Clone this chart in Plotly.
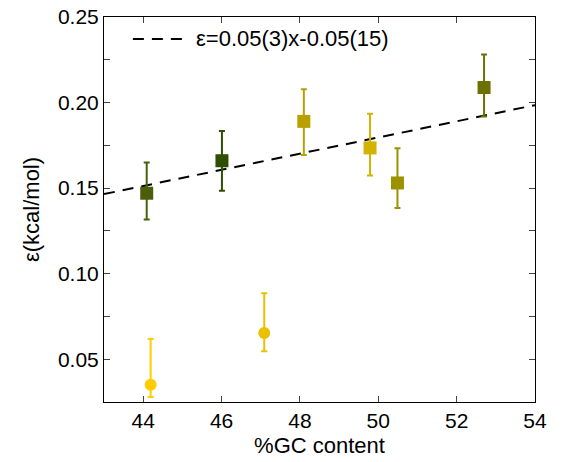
import plotly.graph_objects as go

# Square markers
sq_gc = [44.09, 46.01, 48.10, 49.79, 50.49, 52.70]
sq_eps = [0.147, 0.166, 0.189, 0.1735, 0.153, 0.2088]
sq_hi = [0.165, 0.1834, 0.2078, 0.1934, 0.1733, 0.2281]
sq_lo = [0.1317, 0.1485, 0.1694, 0.1573, 0.1384, 0.1918]
sq_colors = ["#4b5e0c", "#2f4f00", "#b9a000", "#d2b300", "#9c9200", "#6b7000"]

# Circle markers
ci_gc = [44.19, 47.09]
ci_eps = [0.0351, 0.0653]
ci_hi = [0.0618, 0.0886]
ci_lo = [0.0279, 0.0546]
ci_colors = ["#ffcc00", "#e9c100"]

# Linear fit
fit_x = [43.0, 54.0]
fit_y = [0.1465, 0.1985]
fit_label = "ε=0.05(3)x-0.05(15)"

DASH = "11px,8px"

fig = go.Figure()

fig.add_trace(go.Scatter(
    x=fit_x, y=fit_y, mode="lines",
    line=dict(color="black", width=2, dash=DASH),
    name=fit_label, showlegend=False))

def add_pts(xs, ys, his, los, cols, symbol, size):
    for x, y, h, l, c in zip(xs, ys, his, los, cols):
        fig.add_trace(go.Scatter(
            x=[x], y=[y], mode="markers",
            marker=dict(symbol=symbol, size=size, color=c),
            error_y=dict(type="data", symmetric=False,
                         array=[h - y], arrayminus=[y - l],
                         color=c, thickness=2, width=3),
            showlegend=False))

add_pts(sq_gc, sq_eps, sq_hi, sq_lo, sq_colors, "square", 13)
add_pts(ci_gc, ci_eps, ci_hi, ci_lo, ci_colors, "circle", 12)

# Legend (drawn as key line + label in paper coordinates)
fig.add_shape(type="line", xref="paper", yref="paper",
              x0=0.067, x1=0.185, y0=0.943, y1=0.943,
              line=dict(color="black", width=2, dash=DASH))
fig.add_annotation(xref="paper", yref="paper", x=0.208, y=0.943,
                   xanchor="left", yanchor="middle", showarrow=False,
                   text=fit_label, font=dict(size=22))

ytv = [0.025 + 0.025 * i for i in range(10)]
ytt = [("%.2f" % v) if i % 2 == 1 else "" for i, v in enumerate(ytv)]

font = "Liberation Sans, Arial, Helvetica, sans-serif"
fig.update_layout(
    width=569, height=462,
    margin=dict(l=104, r=34, t=17, b=60, autoexpand=False),
    paper_bgcolor="white", plot_bgcolor="white",
    font=dict(family=font, size=21, color="black"),
    showlegend=False,
    xaxis=dict(range=[43, 54], tickvals=[44, 46, 48, 50, 52, 54],
               ticks="inside", ticklen=6, mirror="ticks", showline=True,
               linecolor="black", linewidth=1, showgrid=False, zeroline=False,
               tickfont=dict(size=21), ticklabeloverflow="allow", automargin=False,
               title=dict(text="%GC content", font=dict(size=22), standoff=6)),
    yaxis=dict(range=[0.025, 0.25], tickvals=ytv, ticktext=ytt,
               ticks="inside", ticklen=6, mirror="ticks", showline=True,
               linecolor="black", linewidth=1, showgrid=False, zeroline=False,
               tickfont=dict(size=21), ticklabeloverflow="allow", automargin=False,
               title=dict(text="ε(kcal/mol)", font=dict(size=22), standoff=12)),
)

fig.write_html("out.html",
               config={"displayModeBar": False},
               post_script="document.body.style.margin='0px';"
                           "document.body.style.padding='0px';")
